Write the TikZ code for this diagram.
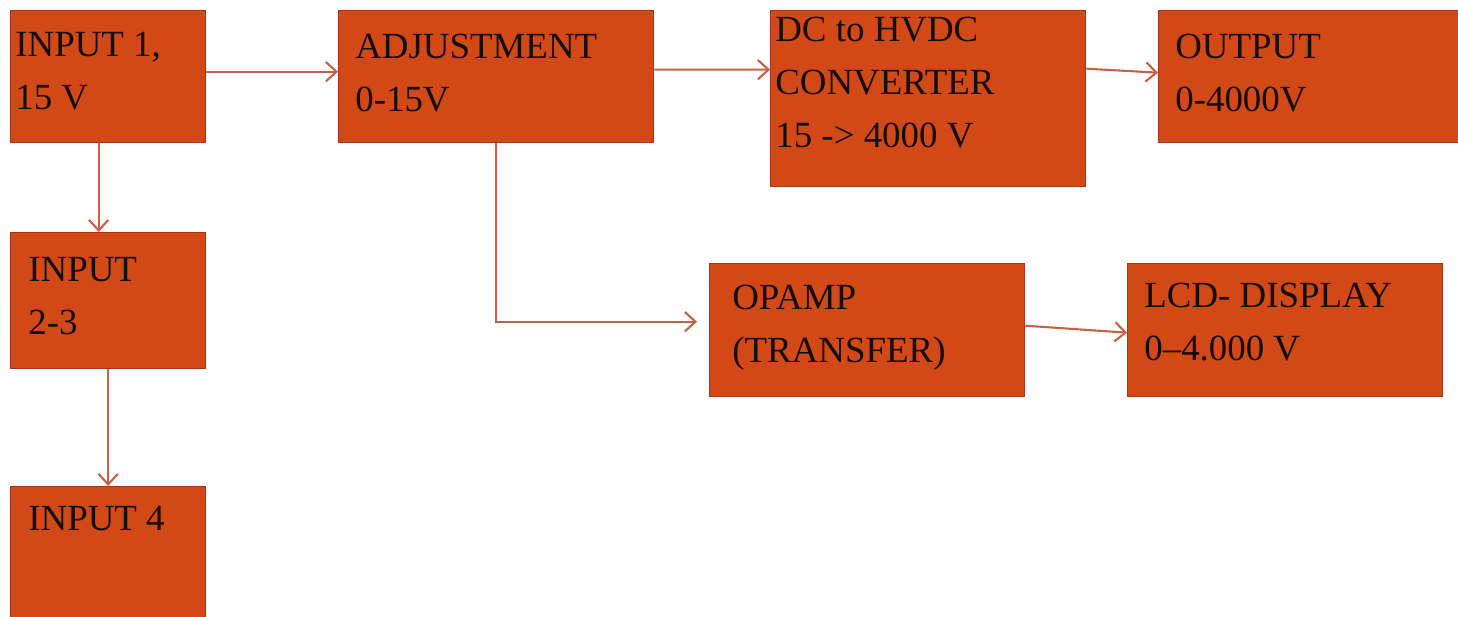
\documentclass[tikz,border=0pt]{standalone}
\usepackage{fontspec}
\setmainfont{Liberation Serif}
\usetikzlibrary{arrows.meta}
\definecolor{blockfill}{RGB}{210,73,23}
\definecolor{blockline}{RGB}{168,54,20}
\definecolor{wirecol}{RGB}{200,96,70}
\begin{document}
\begin{tikzpicture}[x=0.02cm, y=-0.02cm,
    blok/.style={draw=blockline, fill=blockfill, line width=0.8pt, anchor=north west,
                 inner sep=0pt, minimum width=6.3cm, minimum height=2.64cm},
    txt/.style={anchor=north west, inner sep=0pt, align=left, text=black!90!brown,
                font=\fontsize{21}{30}\selectfont},
    wire/.style={draw=wirecol, line width=1.2pt, -{Straight Barb[length=6pt, width=11pt]}}]
    \useasboundingbox (0,0) rectangle (1458,617);
    %Input 1
    \node[blok, minimum width=3.9cm] (in1) at (10,10) {};
    \node[txt] (in1t) at ([xshift=0.1cm, yshift=-0.44cm]in1.north west) {INPUT 1,\\15 V};
    %Adjustment
    \node[blok] (adj) at (338,10) {};
    \node[txt] (adjt) at ([xshift=0.34cm, yshift=-0.48cm]adj.north west) {ADJUSTMENT\\0-15V};
    %Converter
    \node[blok, minimum height=3.52cm] (conv) at (770,10) {};
    \node[txt] (convt) at ([xshift=0.1cm, yshift=-0.14cm]conv.north west) {DC to HVDC\\CONVERTER\\15 -> 4000 V};
    %Output
    \node[blok, minimum width=7.5cm] (out) at (1158,10) {};
    \node[txt] (outt) at ([xshift=0.34cm, yshift=-0.48cm]out.north west) {OUTPUT\\0-4000V};
    %Input 2-3
    \node[blok, minimum width=3.9cm, minimum height=2.72cm] (in23) at (10,232) {};
    \node[txt] (in23t) at ([xshift=0.36cm, yshift=-0.5cm]in23.north west) {INPUT\\2-3};
    %Input 4
    \node[blok, minimum width=3.9cm, minimum height=4cm] (in4) at (10,486) {};
    \node[txt] (in4t) at ([xshift=0.36cm, yshift=-0.4cm]in4.north west) {INPUT 4};
    %Opamp
    \node[blok, minimum height=2.66cm] (opamp) at (709,263) {};
    \node[txt] (opampt) at ([xshift=0.46cm, yshift=-0.44cm]opamp.north west) {OPAMP\\(TRANSFER)};
    %LCD
    \node[blok, minimum height=2.66cm] (lcd) at (1127,263) {};
    \node[txt] (lcdt) at ([xshift=0.34cm, yshift=-0.4cm]lcd.north west) {LCD- DISPLAY\\0--4.000 V};
    %Top row lines
    \draw[wire] ([yshift=0.1cm]in1.east) -- ([yshift=0.1cm]adj.west);
    \draw[wire] ([yshift=0.14cm]adj.east) -- ([yshift=0.58cm]conv.west);
    \draw[wire] ([yshift=0.6cm]conv.east) -- ([yshift=0.08cm]out.west);
    %Left column lines
    \draw[wire] ([xshift=-0.19cm]in1.south) -- ([xshift=-0.19cm]in23.north);
    \draw[wire] (in23.south) -- (in4.north);
    %Lower row lines
    \draw[wire, shorten >=0.24cm] (adj.south) |- ([yshift=0.17cm]opamp.west);
    \draw[wire] ([yshift=0.09cm]opamp.east) -- ([yshift=-0.05cm]lcd.west);
\end{tikzpicture}
\end{document}
